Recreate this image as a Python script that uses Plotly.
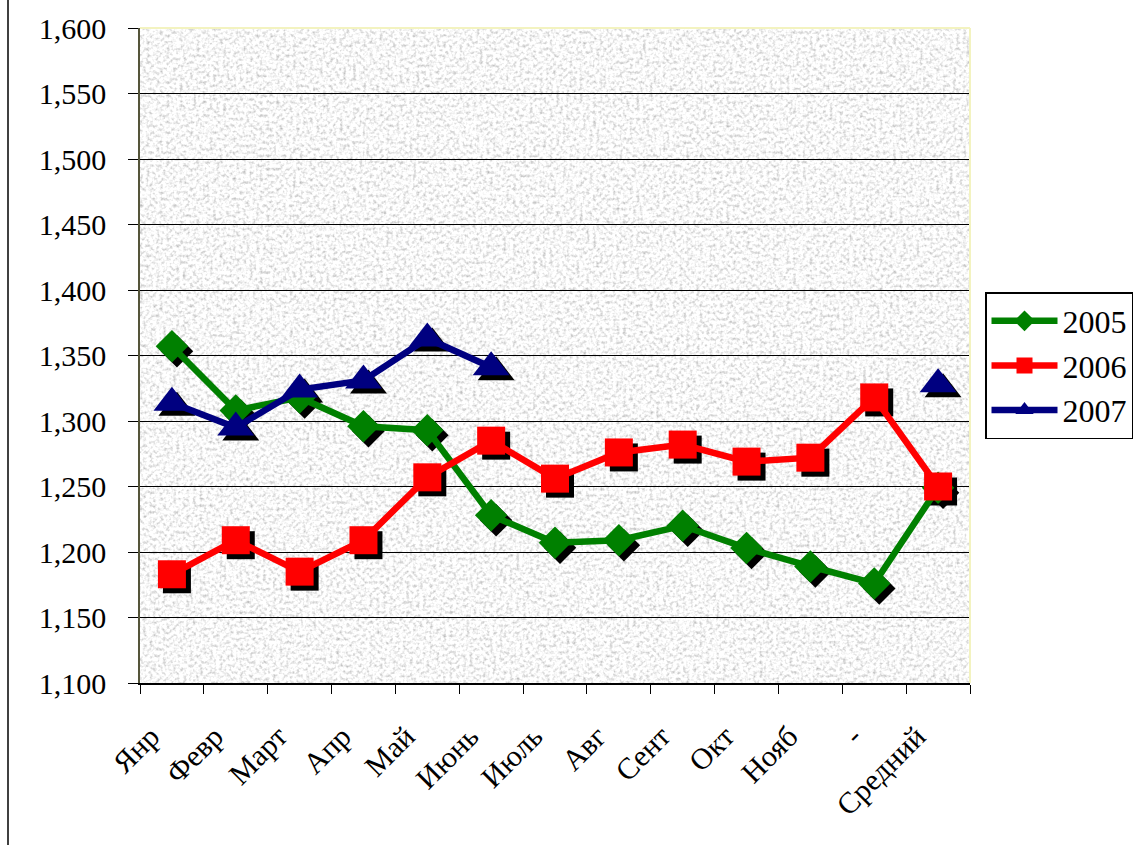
import base64
import plotly.graph_objects as go

categories = ["Янр", "Февр", "Март", "Апр", "Май", "Июнь", "Июль", "Авг",
              "Сент", "Окт", "Нояб", "-", "Средний"]
y2005 = [1357, 1308, 1318, 1296, 1293, 1228, 1207, 1209, 1220, 1203, 1189, 1176, 1249]
y2006 = [1183, 1209, 1185, 1209, 1257, 1285, 1256, 1276, 1282, 1269, 1272, 1318, 1250]
y2007 = [1314, 1295, 1324, 1331, 1363, 1341, None, None, None, None, None, None, 1328]
y_ticks = [1100, 1150, 1200, 1250, 1300, 1350, 1400, 1450, 1500, 1550, 1600]

W, H = 1134, 845
ML, MR, MT, MB = 140, 164, 28, 162
PW, PH = W - ML - MR, H - MT - MB
XR = [-0.5, len(categories) - 0.5]
YR = [1100, 1600]
FONT = "Liberation Serif, Times New Roman, serif"
NB = "\u00a0"

series = [
    ("2005", y2005, "#008000", "diamond", 25),
    ("2006", y2006, "#ff0000", "square", 28),
    ("2007", y2007, "#000080", "triangle-up", 32),
]

fig = go.Figure()

# shadows on the base (hidden, slightly offset) axis pair
for name, ys, col, sym, sz in series:
    fig.add_trace(go.Scatter(
        x=categories, y=ys, mode="markers", xaxis="x", yaxis="y",
        marker=dict(symbol=sym, size=sz, color="black", line=dict(width=0)),
        showlegend=False, hoverinfo="skip"))

# real series on the visible overlay axis pair
for name, ys, col, sym, sz in series:
    fig.add_trace(go.Scatter(
        x=categories, y=ys, mode="lines+markers", name=name, xaxis="x2", yaxis="y2",
        line=dict(color=col, width=6.5),
        marker=dict(symbol=sym, size=sz, color=col, line=dict(width=0)),
        connectgaps=False))

# granite-like background texture
svg = (f"<svg xmlns='http://www.w3.org/2000/svg' width='{PW}' height='{PH}'>"
       "<filter id='n' x='0' y='0' width='100%' height='100%'>"
       "<feTurbulence type='fractalNoise' baseFrequency='0.3' numOctaves='2' seed='11'/>"
       "<feColorMatrix type='matrix' values='1.1 0 0 0 0.39  1.1 0 0 0 0.39  1.1 0 0 0 0.39  0 0 0 0 1'/>"
       "</filter><rect width='100%' height='100%' filter='url(#n)'/></svg>")
src = "data:image/svg+xml;base64," + base64.b64encode(svg.encode()).decode()

dx = 5 / (PW / (XR[1] - XR[0]))
dy = 5 / (PH / (YR[1] - YR[0]))

fig.update_layout(
    width=W, height=H,
    margin=dict(l=ML, r=MR, t=MT, b=MB),
    paper_bgcolor="white", plot_bgcolor="#eeeeee",
    font=dict(family=FONT, color="black"),
    images=[dict(source=src, xref="paper", yref="paper", x=0, y=1, sizex=1, sizey=1,
                 sizing="stretch", layer="below")],
    xaxis=dict(type="category", categoryorder="array", categoryarray=categories,
               range=[XR[0] - dx, XR[1] - dx], showticklabels=False, showgrid=False,
               showline=False, zeroline=False, ticks=""),
    yaxis=dict(range=[YR[0] + dy, YR[1] + dy], showticklabels=False, showgrid=False,
               showline=False, zeroline=False, ticks=""),
    xaxis2=dict(type="category", categoryorder="array", categoryarray=categories,
                overlaying="x", side="bottom",
                tickvals=categories, ticktext=[c + NB * 4 for c in categories],
                range=XR, tickson="boundaries", ticks="outside", ticklen=9, tickcolor="black",
                tickwidth=1, showline=True, linecolor="black", linewidth=1.5, showgrid=False,
                tickangle=-45, tickfont=dict(size=30, family=FONT), ticklabelstandoff=1,
                zeroline=False),
    yaxis2=dict(overlaying="y", side="left",
                range=YR, tickvals=y_ticks, tickformat=",", ticks="outside", ticklen=10,
                tickcolor="black", showline=True, linecolor="#55553a", linewidth=1.5,
                showgrid=True, gridcolor="black", gridwidth=1, tickfont=dict(size=30, family=FONT),
                ticklabelstandoff=16, zeroline=False),
    legend=dict(xref="container", yref="container", x=985 / W, y=1 - 292 / H,
                xanchor="left", yanchor="top",
                bgcolor="white", bordercolor="black", borderwidth=1.5,
                font=dict(size=32, family=FONT), tracegroupgap=0, itemwidth=66),
    shapes=[
        dict(type="line", xref="paper", yref="paper", x0=0, x1=1, y0=1, y1=1,
             line=dict(color="#f3f3c0", width=2)),
        dict(type="line", xref="paper", yref="paper", x0=1, x1=1, y0=0, y1=1,
             line=dict(color="#f3f3c0", width=2)),
        dict(type="line", xref="paper", yref="paper", x0=(8 - ML) / PW, x1=(8 - ML) / PW,
             y0=-MB / PH, y1=1 + MT / PH, line=dict(color="black", width=1.5)),
    ],
)

fig.write_html("out.html", config={"displayModeBar": False},
               post_script="document.body.style.margin='0';document.body.style.overflow='hidden';")
